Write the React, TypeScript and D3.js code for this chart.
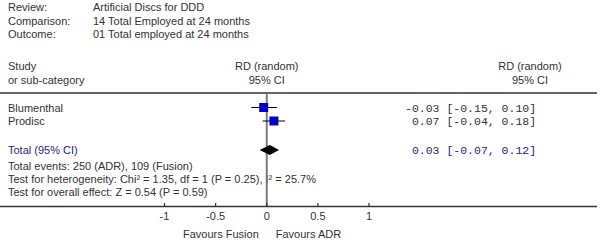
import React from "react";
import * as d3 from "d3";

const headerLabels = ["Review:", "Comparison:", "Outcome:"];
const headerValues = [
  "Artificial Discs for DDD",
  "14 Total Employed at 24 months",
  "01 Total employed at 24 months",
];
const studies = ["Blumenthal", "Prodisc"];
const rd = [-0.03, 0.07];
const lower = [-0.15, -0.04];
const upper = [0.1, 0.18];
const totalRd = 0.03;
const totalLower = -0.07;
const totalUpper = 0.12;
const tickValues = [-1, -0.5, 0, 0.5, 1];
const tickLabels = ["-1", "-0.5", "0", "0.5", "1"];
const footLines = [
  "Total events: 250 (ADR), 109 (Fusion)",
  "Test for heterogeneity: Chi\u00b2 = 1.35, df = 1 (P = 0.25), I\u00b2 = 25.7%",
  "Test for overall effect: Z = 0.54 (P = 0.59)",
];

const fmt = (v: number) => (v < 0 ? "" : " ") + v.toFixed(2);
const ciText = (m: number, l: number, u: number) =>
  `${fmt(m)} [${l.toFixed(2)}, ${u.toFixed(2)}]`;

export default function App() {
  const W = 600;
  const H = 242;
  const x = d3.scaleLinear().domain([-1, 1]).range([164.5, 369]);
  const x0 = x(0);
  const sans = "'Liberation Sans', Arial, sans-serif";
  const mono = "'Liberation Mono', 'Courier New', monospace";
  const txt = "#333333";
  const navy = "#26267a";
  const rowY = [107.5, 121];
  const totalY = 150;
  const axisY = 206.5;
  const sq = 9;
  const rightCx = 530;
  const diamond = d3.line()([
    [x(totalLower), totalY],
    [x(totalRd), totalY - 5],
    [x(totalUpper), totalY],
    [x(totalRd), totalY + 5],
  ]);
  return (
    <svg
      width={W}
      height={H}
      style={{ position: "absolute", left: 0, top: 0, background: "#fff" }}
      fontFamily={sans}
      fontSize={11}
    >
      <rect width={W} height={H} fill="#fff" />
      {headerLabels.map((l, i) => (
        <g key={l}>
          <text x={8} y={11 + i * 13.5} fill={txt}>{l}</text>
          <text x={93} y={11 + i * 13.5} fill={txt}>{headerValues[i]}</text>
        </g>
      ))}
      <text x={8} y={70} fill={txt}>Study</text>
      <text x={8} y={83.5} fill={txt}>or sub-category</text>
      <text x={x0} y={70} fill={txt} textAnchor="middle">RD (random)</text>
      <text x={x0} y={83.5} fill={txt} textAnchor="middle">95% CI</text>
      <text x={rightCx} y={70} fill={txt} textAnchor="middle">RD (random)</text>
      <text x={rightCx} y={83.5} fill={txt} textAnchor="middle">95% CI</text>
      <line x1={0} x2={597} y1={93} y2={93} stroke="#333" strokeWidth={1.5} />

      {studies.map((s, i) => (
        <g key={s}>
          <text x={8} y={rowY[i] + 4} fill={txt}>{s}</text>
          <text x={405} y={rowY[i] + 4} fill={txt} fontFamily={mono} fontSize={11.5} style={{ whiteSpace: "pre" }}>
            {ciText(rd[i], lower[i], upper[i])}
          </text>
        </g>
      ))}
      <text x={8} y={totalY + 3.5} fill={navy}>Total (95% CI)</text>
      <text x={405} y={totalY + 3.5} fill={navy} fontFamily={mono} fontSize={11.5} style={{ whiteSpace: "pre" }}>
        {ciText(totalRd, totalLower, totalUpper)}
      </text>
      {footLines.map((l, i) => (
        <text key={i} x={8} y={170 + i * 13.2} fill={txt}>{l}</text>
      ))}

      <line x1={x0} x2={x0} y1={93} y2={axisY} stroke="#7a7a7a" strokeWidth={2} />

      {studies.map((s, i) => (
        <g key={s + "m"}>
          <line x1={x(lower[i])} x2={x(upper[i])} y1={rowY[i]} y2={rowY[i]} stroke="#000" strokeWidth={1} />
          <rect x={x(rd[i]) - sq / 2} y={rowY[i] - sq / 2} width={sq} height={sq} fill="#0000cc" />
        </g>
      ))}
      <path d={diamond || ""} fill="#000" />

      <line x1={0} x2={597} y1={axisY} y2={axisY} stroke="#333" strokeWidth={1.5} />
      {tickValues.map((t, i) => (
        <g key={t}>
          <line x1={x(t)} x2={x(t)} y1={axisY - 3.5} y2={axisY} stroke="#333" strokeWidth={1.2} />
          <text x={x(t)} y={220} fill={txt} textAnchor="middle">{tickLabels[i]}</text>
        </g>
      ))}
      <text x={x0 - 8} y={238} fill={txt} textAnchor="end">Favours Fusion</text>
      <text x={x0 + 9} y={238} fill={txt}>Favours ADR</text>
    </svg>
  );
}
